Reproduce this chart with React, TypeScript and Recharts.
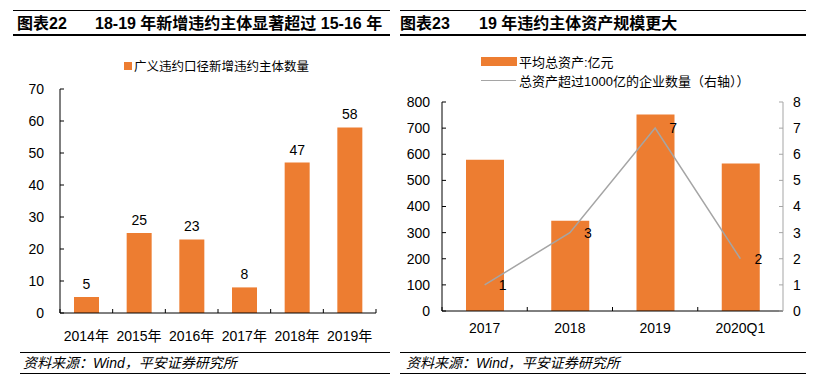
import React from 'react';
import { BarChart, Bar, ComposedChart, Line, XAxis, YAxis, LabelList } from 'recharts';

// 图表22 data
const years22 = ['2014年', '2015年', '2016年', '2017年', '2018年', '2019年'];
const newDefaulters = [5, 25, 23, 8, 47, 58];
const ticks22 = [0, 10, 20, 30, 40, 50, 60, 70];

// 图表23 data
const years23 = ['2017', '2018', '2019', '2020Q1'];
const avgAssets = [579, 345, 752, 565];
const bigIssuers = [1, 3, 7, 2];
const ticks23Left = [0, 100, 200, 300, 400, 500, 600, 700, 800];
const ticks23Right = [0, 1, 2, 3, 4, 5, 6, 7, 8];

const ORANGE = '#ED7D31';
const GRAY = '#A5A5A5';
const FONT = '"Liberation Sans", Arial, "Noto Sans CJK SC", sans-serif';

const data22 = years22.map((year, i) => ({ year, value: newDefaulters[i] }));
const data23 = years23.map((year, i) => ({ year, assets: avgAssets[i], count: bigIssuers[i] }));

// category tick with Excel-style boundary tick marks pointing inward
const CatTick = ({ x, y, payload, index, visibleTicksCount, gap, band, closeEnd }: any) => {
  const half = payload && typeof payload.offset === 'number' && payload.offset > 0 ? payload.offset : band / 2;
  const axisY = y - gap;
  const last = index === visibleTicksCount - 1;
  return (
    <g>
      <line x1={x - half} x2={x - half} y1={axisY} y2={axisY - 4} stroke="#000" strokeWidth={1} />
      {last && closeEnd && <line x1={x + half} x2={x + half} y1={axisY} y2={axisY - 4} stroke="#000" strokeWidth={1} />}
      <text x={x} y={y} dy="0.71em" textAnchor="middle" fontSize={14} fill="#000" fontFamily={FONT}>
        {payload.value}
      </text>
    </g>
  );
};

const Rule = ({ left, top, width, h = 1 }: { left: number; top: number; width: number; h?: number }) => (
  <div style={{ position: 'absolute', left, top, width, height: h, background: '#000' }} />
);

const Txt = ({ left, top, size, bold, italic, children }: any) => (
  <div
    style={{
      position: 'absolute',
      left,
      top,
      fontSize: size,
      lineHeight: '20px',
      fontWeight: bold ? 700 : 400,
      fontStyle: italic ? 'italic' : 'normal',
      whiteSpace: 'nowrap',
      color: '#000',
    }}
  >
    {children}
  </div>
);

export default function App() {
  return (
    <div style={{ position: 'absolute', left: 0, top: 0, width: 820, height: 384, background: '#fff', fontFamily: FONT, overflow: 'hidden' }}>
      {/* headers */}
      <Rule left={13} top={10} width={377} />
      <Txt left={17} top={14} size={16} bold>图表22</Txt>
      <Txt left={95} top={14} size={16} bold>18-19 年新增违约主体显著超过 15-16 年</Txt>
      <Rule left={13} top={34} width={377} h={1.5} />

      <Rule left={400} top={10} width={406} />
      <Txt left={400} top={14} size={16} bold>图表23</Txt>
      <Txt left={479} top={14} size={16} bold>19 年违约主体资产规模更大</Txt>
      <Rule left={400} top={34} width={406} h={1.5} />

      {/* chart 22 */}
      <div style={{ position: 'absolute', left: 0, top: 0 }}>
        <BarChart width={400} height={384} data={data22} margin={{ top: 89, right: 24, bottom: 41, left: 20 }}>
          <XAxis
            dataKey="year"
            height={30}
            axisLine={{ stroke: '#000' }}
            tickLine={false}
            tickSize={0}
            tickMargin={18}
            interval={0}
            tick={<CatTick gap={18} band={316 / 6} closeEnd />}
          />
          <YAxis
            width={40}
            domain={[0, 70]}
            ticks={ticks22}
            interval={0}
            axisLine={{ stroke: '#000' }}
            tickLine={{ stroke: '#000' }}
            tickSize={-4}
            tickMargin={20}
            tick={{ fontSize: 14, fill: '#000', fontFamily: FONT }}
          />
          <Bar dataKey="value" fill={ORANGE} barSize={25} isAnimationActive={false}>
            <LabelList dataKey="value" position="top" offset={8} fontSize={14} fill="#000" fontFamily={FONT} />
          </Bar>
        </BarChart>
      </div>
      <div style={{ position: 'absolute', left: 124, top: 56, display: 'flex', alignItems: 'center', fontSize: 12.5, color: '#000' }}>
        <span style={{ display: 'inline-block', width: 8, height: 8, background: ORANGE, marginRight: 2 }} />
        <span>广义违约口径新增违约主体数量</span>
      </div>

      {/* chart 23 */}
      <div style={{ position: 'absolute', left: 400, top: 0 }}>
        <ComposedChart width={420} height={384} data={data23} margin={{ top: 102, right: 0, bottom: 43, left: 0 }}>
          <XAxis
            dataKey="year"
            height={30}
            axisLine={{ stroke: '#000' }}
            tickLine={false}
            tickSize={0}
            tickMargin={12}
            interval={0}
            tick={<CatTick gap={12} band={340 / 4} />}
          />
          <YAxis
            yAxisId="left"
            width={42}
            domain={[0, 800]}
            ticks={ticks23Left}
            interval={0}
            axisLine={{ stroke: '#000' }}
            tickLine={{ stroke: '#000' }}
            tickSize={-4}
            tickMargin={16}
            tick={{ fontSize: 14, fill: '#000', fontFamily: FONT }}
          />
          <YAxis
            yAxisId="right"
            orientation="right"
            width={37}
            domain={[0, 8]}
            ticks={ticks23Right}
            interval={0}
            axisLine={{ stroke: GRAY }}
            tickLine={{ stroke: GRAY }}
            tickSize={-4}
            tickMargin={14}
            tick={{ fontSize: 14, fill: '#000', fontFamily: FONT }}
          />
          <Bar yAxisId="left" dataKey="assets" fill={ORANGE} barSize={38} isAnimationActive={false} />
          <Line
            yAxisId="right"
            dataKey="count"
            stroke={GRAY}
            strokeWidth={1.5}
            dot={false}
            activeDot={false}
            isAnimationActive={false}
          >
            <LabelList dataKey="count" position="right" offset={14} fontSize={14} fill="#000" fontFamily={FONT} />
          </Line>
        </ComposedChart>
      </div>
      <div style={{ position: 'absolute', left: 481, top: 52, fontSize: 13, color: '#000' }}>
        <div style={{ display: 'flex', alignItems: 'center', height: 19 }}>
          <span style={{ display: 'inline-block', width: 36, height: 9, background: ORANGE, marginRight: 2 }} />
          <span>平均总资产:亿元</span>
        </div>
        <div style={{ display: 'flex', alignItems: 'center', height: 19 }}>
          <span style={{ display: 'inline-block', width: 35, height: 1, background: GRAY, marginRight: 3 }} />
          <span>总资产超过1000亿的企业数量（右轴））</span>
        </div>
      </div>

      {/* footers */}
      <Rule left={20} top={352} width={370} />
      <Txt left={23} top={353} size={14} italic>资料来源：Wind，平安证券研究所</Txt>
      <Rule left={20} top={373} width={370} />

      <Rule left={400} top={352} width={406} />
      <Txt left={406} top={353} size={14} italic>资料来源：Wind，平安证券研究所</Txt>
      <Rule left={400} top={373} width={406} />
    </div>
  );
}
